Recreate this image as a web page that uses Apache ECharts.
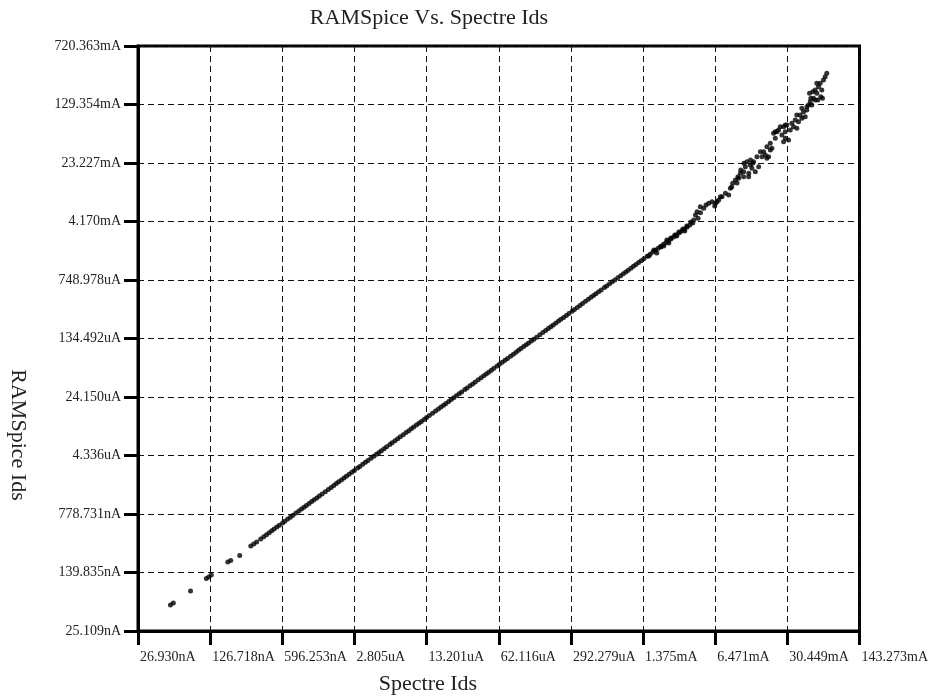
<!DOCTYPE html>
<html><head><meta charset="utf-8">
<script src="https://cdn.jsdelivr.net/npm/echarts@6/dist/echarts.min.js"></script>
<style>html,body{margin:0;padding:0;background:#fff}#c{width:931px;height:696px}</style>
</head><body><div id="c"></div>
<script>
// Tick labels (log-spaced, 11 ticks each)
const xTickLabels = ['26.930nA','126.718nA','596.253nA','2.805uA','13.201uA','62.116uA','292.279uA','1.375mA','6.471mA','30.449mA','143.273mA'];
const yTickLabels = ['25.109nA','139.835nA','778.731nA','4.336uA','24.150uA','134.492uA','748.978uA','4.170mA','23.227mA','129.354mA','720.363mA'];
const X_MIN = 26.930e-9, X_MAX = 143.273e-3;
const Y_MIN = 25.109e-9, Y_MAX = 720.363e-3;

// Sparse low-current points (amps)
const lowSpectre  = [5.40e-8,5.75e-8,8.32e-8,1.167e-7,1.23e-7,1.298e-7,1.85e-7,1.97e-7,2.39e-7,3.03e-7,3.23e-7,3.44e-7];
const lowRamspice = [5.40e-8,5.72e-8,8.13e-8,1.174e-7,1.227e-7,1.30e-7,1.905e-7,1.99e-7,2.30e-7,3.05e-7,3.23e-7,3.43e-7];

// Dense stretch where both simulators agree (amps)
const lineSpectre = [3.75e-7,4.00e-7,4.25e-7,4.50e-7,4.75e-7,5.00e-7,5.30e-7,5.60e-7,6.00e-7,6.30e-7,6.70e-7,7.10e-7,7.50e-7,8.00e-7,8.50e-7,9.00e-7,9.50e-7,
1.00e-6,1.06e-6,1.12e-6,1.18e-6,1.25e-6,1.32e-6,1.40e-6,1.50e-6,1.60e-6,1.70e-6,1.80e-6,1.90e-6,2.00e-6,2.12e-6,2.24e-6,2.36e-6,2.50e-6,2.65e-6,2.80e-6,3.00e-6,3.15e-6,3.35e-6,3.55e-6,3.75e-6,4.00e-6,4.25e-6,4.50e-6,4.75e-6,5.00e-6,5.30e-6,5.60e-6,6.00e-6,6.30e-6,6.70e-6,7.10e-6,7.50e-6,8.00e-6,8.50e-6,9.00e-6,9.50e-6,
1.00e-5,1.06e-5,1.12e-5,1.18e-5,1.25e-5,1.32e-5,1.40e-5,1.50e-5,1.60e-5,1.70e-5,1.80e-5,1.90e-5,2.00e-5,2.12e-5,2.24e-5,2.36e-5,2.50e-5,2.65e-5,2.80e-5,3.00e-5,3.15e-5,3.35e-5,3.55e-5,3.75e-5,4.00e-5,4.25e-5,4.50e-5,4.75e-5,5.00e-5,5.30e-5,5.60e-5,6.00e-5,6.30e-5,6.70e-5,7.10e-5,7.50e-5,8.00e-5,8.50e-5,9.00e-5,9.50e-5,
1.00e-4,1.06e-4,1.12e-4,1.18e-4,1.25e-4,1.32e-4,1.40e-4,1.50e-4,1.60e-4,1.70e-4,1.80e-4,1.90e-4,2.00e-4,2.12e-4,2.24e-4,2.36e-4,2.50e-4,2.65e-4,2.80e-4,3.00e-4,3.15e-4,3.35e-4,3.55e-4,3.75e-4,4.00e-4,4.25e-4,4.50e-4,4.75e-4,5.00e-4,5.30e-4,5.60e-4,6.00e-4,6.30e-4,6.70e-4,7.10e-4,7.50e-4,8.00e-4,8.50e-4,9.00e-4,9.50e-4,
1.00e-3,1.06e-3,1.12e-3,1.18e-3,1.25e-3,1.32e-3,1.40e-3,1.50e-3,1.60e-3,1.70e-3,1.80e-3,1.90e-3,2.00e-3,2.12e-3,2.24e-3,2.36e-3,2.50e-3,2.65e-3,2.80e-3,3.00e-3,3.15e-3,3.35e-3,3.55e-3,3.75e-3,4.00e-3];
const lineRamspice = [3.75e-7,4.00e-7,4.25e-7,4.50e-7,4.75e-7,5.00e-7,5.30e-7,5.60e-7,6.00e-7,6.30e-7,6.70e-7,7.10e-7,7.50e-7,8.00e-7,8.50e-7,9.00e-7,9.50e-7,
1.00e-6,1.06e-6,1.12e-6,1.18e-6,1.25e-6,1.32e-6,1.40e-6,1.50e-6,1.60e-6,1.70e-6,1.80e-6,1.90e-6,2.00e-6,2.12e-6,2.24e-6,2.36e-6,2.50e-6,2.65e-6,2.80e-6,3.00e-6,3.15e-6,3.35e-6,3.55e-6,3.75e-6,4.00e-6,4.25e-6,4.50e-6,4.75e-6,5.00e-6,5.30e-6,5.60e-6,6.00e-6,6.30e-6,6.70e-6,7.10e-6,7.50e-6,8.00e-6,8.50e-6,9.00e-6,9.50e-6,
1.00e-5,1.06e-5,1.12e-5,1.18e-5,1.25e-5,1.32e-5,1.40e-5,1.50e-5,1.60e-5,1.70e-5,1.80e-5,1.90e-5,2.00e-5,2.12e-5,2.24e-5,2.36e-5,2.50e-5,2.65e-5,2.80e-5,3.00e-5,3.15e-5,3.35e-5,3.55e-5,3.75e-5,4.00e-5,4.25e-5,4.50e-5,4.75e-5,5.00e-5,5.30e-5,5.60e-5,6.00e-5,6.30e-5,6.70e-5,7.10e-5,7.50e-5,8.00e-5,8.50e-5,9.00e-5,9.50e-5,
1.00e-4,1.06e-4,1.12e-4,1.18e-4,1.25e-4,1.32e-4,1.40e-4,1.50e-4,1.60e-4,1.70e-4,1.80e-4,1.90e-4,2.00e-4,2.12e-4,2.24e-4,2.36e-4,2.50e-4,2.65e-4,2.80e-4,3.00e-4,3.15e-4,3.35e-4,3.55e-4,3.75e-4,4.00e-4,4.25e-4,4.50e-4,4.75e-4,5.00e-4,5.30e-4,5.60e-4,6.00e-4,6.30e-4,6.70e-4,7.10e-4,7.50e-4,8.00e-4,8.50e-4,9.00e-4,9.50e-4,
1.00e-3,1.06e-3,1.12e-3,1.18e-3,1.25e-3,1.32e-3,1.40e-3,1.50e-3,1.60e-3,1.70e-3,1.80e-3,1.90e-3,2.00e-3,2.12e-3,2.24e-3,2.36e-3,2.50e-3,2.65e-3,2.80e-3,3.00e-3,3.15e-3,3.35e-3,3.55e-3,3.75e-3,4.00e-3];

// High-current scattered tail (amps)
const tailSpectre = [1.558e-3,1.734e-3,1.849e-3,2.015e-3,2.148e-3,2.291e-3,2.391e-3,2.496e-3,2.719e-3,2.838e-3,
2.962e-3,3.227e-3,3.369e-3,3.516e-3,3.831e-3,4.085e-3,4.236e-3,4.384e-3,4.479e-3,4.715e-3,
4.70e-3,5.061e-3,5.316e-3,5.632e-3,6.044e-3,6.405e-3,6.501e-3,6.728e-3,6.978e-3,7.237e-3,
7.489e-3,8.054e-3,8.646e-3,8.966e-3,9.219e-3,9.418e-3,9.98e-3,10.33e-3,10.55e-3,10.71e-3,
11.11e-3,11.2e-3,11.92e-3,12.0e-3,11.9e-3,12.37e-3,12.79e-3,13.27e-3,13.3e-3,13.76e-3,
13.8e-3,14.24e-3,14.45e-3,14.77e-3,15.31e-3,15.85e-3,16.44e-3,17.05e-3,17.64e-3,18.30e-3,
18.97e-3,19.63e-3,19.6e-3,20.37e-3,21.12e-3,21.1e-3,21.85e-3,22.66e-3,23.50e-3,23.5e-3,
24.32e-3,25.23e-3,26.17e-3,27.08e-3,28.08e-3,28.1e-3,29.13e-3,29.1e-3,29.2e-3,30.13e-3,
31.26e-3,32.41e-3,33.54e-3,34.78e-3,36.07e-3,37.34e-3,37.3e-3,38.72e-3,40.16e-3,41.56e-3,
41.6e-3,43.10e-3,44.70e-3,46.26e-3,46.3e-3,47.97e-3,48.99e-3,49.73e-3,50.38e-3,51.47e-3,
52.59e-3,53.38e-3,55.38e-3,55.4e-3,57.30e-3,57.3e-3,58.54e-3,59.43e-3,61.64e-3,62.43e-3,
63.79e-3,64.75e-3,66.15e-3,68.60e-3,71.00e-3];
const tailRamspice = [1.517e-3,1.809e-3,1.657e-3,1.976e-3,2.035e-3,2.427e-3,2.223e-3,2.573e-3,2.810e-3,2.729e-3,
3.069e-3,3.352e-3,3.160e-3,3.660e-3,4.116e-3,4.365e-3,5.054e-3,5.569e-3,4.588e-3,5.408e-3,
6.449e-3,6.153e-3,6.779e-3,7.128e-3,7.470e-3,6.584e-3,7.128e-3,7.470e-3,7.852e-3,8.650e-3,
8.60e-3,9.559e-3,9.093e-3,11.07e-3,11.50e-3,12.82e-3,14.12e-3,12.9e-3,15.56e-3,14.85e-3,
17.19e-3,18.94e-3,18.02e-3,23.06e-3,15.56e-3,20.87e-3,24.16e-3,15.56e-3,17.19e-3,21.94e-3,
25.41e-3,19.91e-3,23.06e-3,24.16e-3,18.02e-3,27.99e-3,20.87e-3,32.41e-3,27.99e-3,32.41e-3,
29.42e-3,37.54e-3,26.71e-3,27.99e-3,34.07e-3,41.48e-3,35.82e-3,55.64e-3,58.31e-3,48.03e-3,
58.31e-3,61.28e-3,67.52e-3,52.92e-3,43.46e-3,67.52e-3,70.98e-3,58.31e-3,48.03e-3,71.0e-3,
45.70e-3,61.28e-3,74.62e-3,67.52e-3,82.20e-3,64.42e-3,95.20e-3,78.20e-3,95.2e-3,115.9e-3,
86.4e-3,104.9e-3,90.57e-3,110.2e-3,121.5e-3,127.7e-3,180.0e-3,140.7e-3,155.4e-3,127.7e-3,
188.7e-3,155.4e-3,198.3e-3,147.8e-3,180.0e-3,241.4e-3,147.8e-3,218.5e-3,241.4e-3,162.9e-3,
198.3e-3,155.4e-3,266.0e-3,293.0e-3,323.7e-3];

// Log mapping onto tick-index units (0..10) so the value axes place the 11 log ticks evenly
const xu = v => 10 * Math.log10(v / X_MIN) / Math.log10(X_MAX / X_MIN);
const yu = v => 10 * Math.log10(v / Y_MIN) / Math.log10(Y_MAX / Y_MIN);

const points = [];
[[lowSpectre, lowRamspice], [lineSpectre, lineRamspice], [tailSpectre, tailRamspice]].forEach(([s, r]) => {
  s.forEach((v, i) => points.push([xu(v), yu(r[i])]));
});

const serif = '"Liberation Serif","Times New Roman",serif';
const chart = echarts.init(document.getElementById('c'), null, {renderer: 'canvas'});
chart.setOption({
  animation: false,
  backgroundColor: '#fff',
  grid: {left: 138, right: 70, top: 46, bottom: 65, show: true, borderColor: '#000', borderWidth: 3, backgroundColor: 'transparent'},
  xAxis: {
    type: 'value', min: 0, max: 10, interval: 1,
    axisLine: {show: true, onZero: false, lineStyle: {color: '#000', width: 3}},
    axisTick: {show: true, length: 14, lineStyle: {color: '#000', width: 3}},
    axisLabel: {formatter: v => xTickLabels[Math.round(v)], align: 'left', margin: 19, padding: [0, 0, 0, 2],
      fontFamily: serif, fontSize: 14, color: '#222', showMinLabel: true, showMaxLabel: true},
    splitLine: {show: true, lineStyle: {type: [6, 4], color: '#111', width: 1}}
  },
  yAxis: {
    type: 'value', min: 0, max: 10, interval: 1,
    axisLine: {show: true, onZero: false, lineStyle: {color: '#000', width: 3}},
    axisTick: {show: true, length: 14, lineStyle: {color: '#000', width: 3}},
    axisLabel: {formatter: v => yTickLabels[Math.round(v)], margin: 17, verticalAlign: 'middle', padding: [0, 0, 8, 0],
      fontFamily: serif, fontSize: 14, color: '#222', showMinLabel: true, showMaxLabel: true},
    splitLine: {show: true, lineStyle: {type: [6, 4], color: '#111', width: 1}}
  },
  graphic: [
    {type: 'text', x: 429, y: 18, style: {text: 'RAMSpice Vs. Spectre Ids', fontFamily: serif, fontSize: 22, fill: '#222', align: 'center', verticalAlign: 'middle', textAlign: 'center', textVerticalAlign: 'middle'}},
    {type: 'text', x: 428, y: 684, style: {text: 'Spectre Ids', fontFamily: serif, fontSize: 22, fill: '#222', align: 'center', verticalAlign: 'middle', textAlign: 'center', textVerticalAlign: 'middle'}},
    {type: 'text', x: 18, y: 435, rotation: -Math.PI / 2, style: {text: 'RAMSpice Ids', fontFamily: serif, fontSize: 22, fill: '#222', align: 'center', verticalAlign: 'middle', textAlign: 'center', textVerticalAlign: 'middle'}}
  ],
  series: [{
    type: 'scatter', data: points, symbol: 'circle', symbolSize: 5,
    itemStyle: {color: '#000'}, silent: true
  }]
});
</script></body></html>
